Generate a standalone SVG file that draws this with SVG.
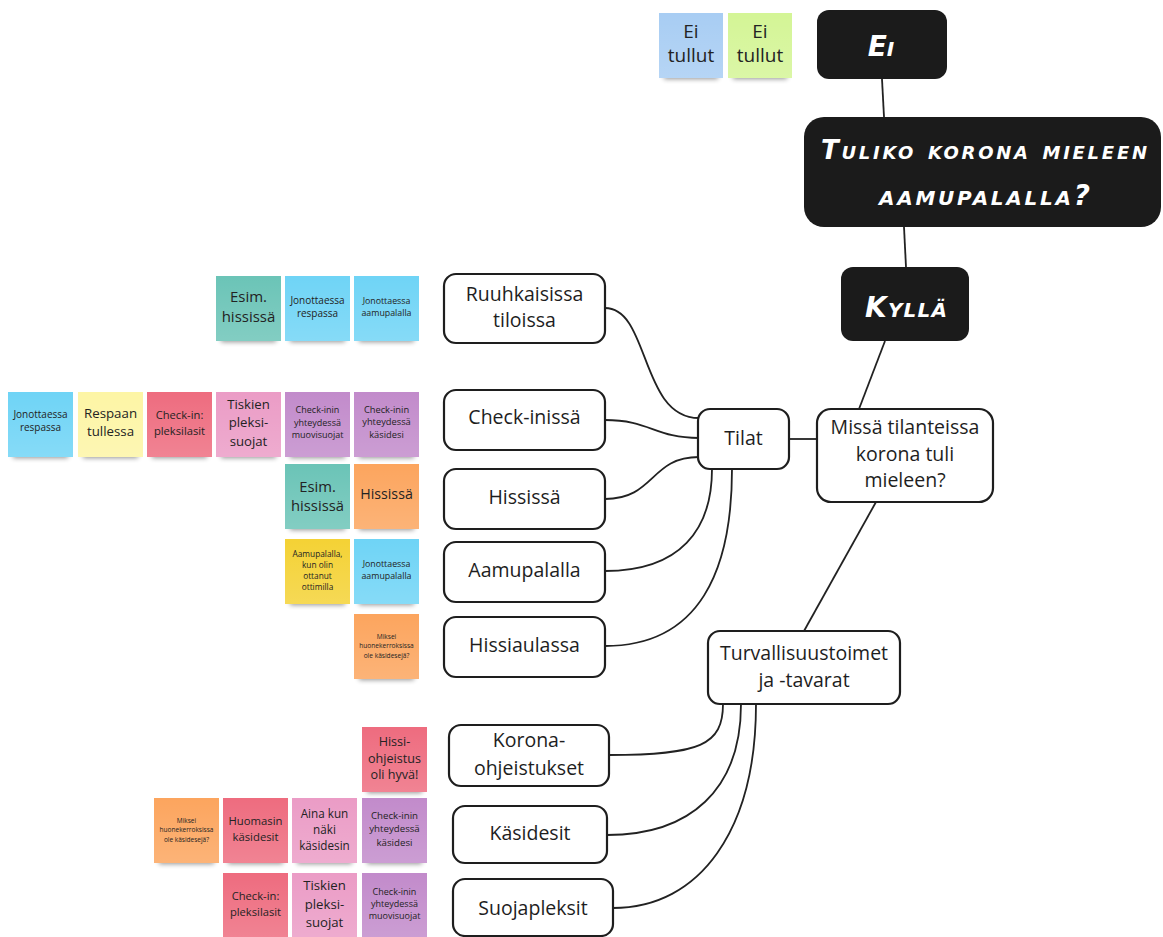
<svg xmlns="http://www.w3.org/2000/svg" width="1163" height="937" viewBox="0 0 1163 937">
  <defs>
    <linearGradient id="sheen" x1="0" y1="0" x2="0" y2="1">
      <stop offset="0" stop-color="#fff" stop-opacity="0"/>
      <stop offset="1" stop-color="#fff" stop-opacity="0.16"/>
    </linearGradient>
    <filter id="blur" x="-30%" y="-100%" width="160%" height="300%">
      <feGaussianBlur stdDeviation="2.6"/>
    </filter>
  </defs>
  <style>
    .bg { fill: #ffffff; }
    .shd { fill: #000; opacity: 0.42; filter: url(#blur); }
    .sheen { fill: url(#sheen); }
    .teal { fill: #6bc4b7; }
    .cyan { fill: #6fd4f6; }
    .lblue { fill: #a8cdf3; }
    .lime { fill: #d4f596; }
    .yellow { fill: #fdf5a5; }
    .red { fill: #ee6c7f; }
    .pink { fill: #eb9cc6; }
    .purple { fill: #c28bcb; }
    .orange { fill: #fca55e; }
    .gold { fill: #f4d235; }
    .st { font-family: "Open Sans", "Liberation Sans", sans-serif; fill: #232323; text-anchor: middle; }
    .box { fill: #ffffff; stroke: #1e1e1e; stroke-width: 2.2; }
    .dark { fill: #1b1b1b; }
    .bt { font-family: "Open Sans", "Liberation Sans", sans-serif; font-size: 19.5px; fill: #1e1e1e; text-anchor: middle; }
    .ht { font-family: "DejaVu Sans", "Liberation Sans", sans-serif; font-weight: bold; font-style: italic; font-variant: small-caps; fill: #ffffff; }
    .edge { fill: none; stroke: #222; stroke-width: 1.8; }
  </style>

  <rect class="bg" width="1163" height="937"/>

  <!-- connectors -->
  <g id="connectors">
    <path class="edge" d="M882,79 L884,117"/>
    <path class="edge" d="M904,227 L906,267"/>
    <path class="edge" d="M885,341 L859,409"/>
    <path class="edge" d="M789,439 L817,439"/>
    <path class="edge" d="M876,502 L804,631"/>
    <path class="edge" d="M605,308 C650,308 640,418 699,418"/>
    <path class="edge" d="M605,420 C650,420 655,438 699,438"/>
    <path class="edge" d="M605,499 C655,499 650,457 699,457"/>
    <path class="edge" d="M605,571 C680,571 712,530 712,469"/>
    <path class="edge" d="M605,646 C700,646 732,570 732,469"/>
    <path class="edge" d="M723,704 C723,745 700,755 609,755"/>
    <path class="edge" d="M741,704 C741,790 690,835 607,835"/>
    <path class="edge" d="M756,704 C756,830 700,908 613,908"/>
  </g>

  <!-- question nodes -->
  <g id="node-ei">
    <rect class="dark" x="817" y="10" width="130" height="69" rx="12"/>
    <text class="ht" x="881" y="56" font-size="28" text-anchor="middle">Ei</text>
  </g>
  <g id="node-tuliko">
    <rect class="dark" x="804" y="117" width="357" height="110" rx="20"/>
    <text class="ht" x="821" y="159" font-size="26" textLength="326" lengthAdjust="spacing">Tuliko korona mieleen</text>
    <text class="ht" x="879" y="205" font-size="28" textLength="211" lengthAdjust="spacing">aamupalalla?</text>
  </g>
  <g id="node-kylla">
    <rect class="dark" x="841" y="267" width="128" height="74" rx="12"/>
    <text class="ht" x="865" y="317" font-size="28" textLength="82" lengthAdjust="spacing">Kyllä</text>
  </g>

  <g id="node-missa">
    <rect class="box" x="817" y="409" width="176" height="93" rx="14"/>
    <text class="bt" x="905" y="433.5">Missä tilanteissa</text>
    <text class="bt" x="905" y="461">korona tuli</text>
    <text class="bt" x="905" y="487">mieleen?</text>
  </g>
  <g id="node-tilat">
    <rect class="box" x="698" y="409" width="91" height="60" rx="12"/>
    <text class="bt" x="743.5" y="444.5">Tilat</text>
  </g>
  <g id="node-turvallisuus">
    <rect class="box" x="708" y="631" width="192" height="73" rx="12"/>
    <text class="bt" x="804" y="660">Turvallisuustoimet</text>
    <text class="bt" x="804" y="687">ja -tavarat</text>
  </g>

  <g id="node-ruuhkaisissa">
    <rect class="box" x="444" y="274" width="161" height="69" rx="12"/>
    <text class="bt" x="524.5" y="300.5">Ruuhkaisissa</text>
    <text class="bt" x="524.5" y="327">tiloissa</text>
  </g>
  <g id="node-checkinissa">
    <rect class="box" x="444" y="390" width="161" height="60" rx="12"/>
    <text class="bt" x="524.5" y="424">Check-inissä</text>
  </g>
  <g id="node-hississa">
    <rect class="box" x="444" y="469" width="161" height="60" rx="12"/>
    <text class="bt" x="524.5" y="504">Hississä</text>
  </g>
  <g id="node-aamupalalla">
    <rect class="box" x="444" y="542" width="161" height="60" rx="12"/>
    <text class="bt" x="524.5" y="577">Aamupalalla</text>
  </g>
  <g id="node-hissiaulassa">
    <rect class="box" x="444" y="617" width="161" height="60" rx="12"/>
    <text class="bt" x="524.5" y="652">Hissiaulassa</text>
  </g>
  <g id="node-korona">
    <rect class="box" x="449" y="725" width="160" height="61" rx="12"/>
    <text class="bt" x="529" y="747">Korona-</text>
    <text class="bt" x="529" y="774.5">ohjeistukset</text>
  </g>
  <g id="node-kasidesit">
    <rect class="box" x="453" y="806" width="154" height="57" rx="12"/>
    <text class="bt" x="530" y="840">Käsidesit</text>
  </g>
  <g id="node-suojapleksit">
    <rect class="box" x="453" y="879" width="160" height="57" rx="12"/>
    <text class="bt" x="533" y="915">Suojapleksit</text>
  </g>

  <!-- sticky notes -->
  <g id="sticky-ei-1" transform="translate(659,13)">
    <rect class="shd" x="5" y="56" width="54" height="10"/>
    <rect class="lblue" width="64" height="65"/>
    <rect class="sheen" width="64" height="65"/>
    <text class="st" font-size="19"><tspan x="32" y="25">Ei</tspan><tspan x="32" y="49">tullut</tspan></text>
  </g>
  <g id="sticky-ei-2" transform="translate(728,13)">
    <rect class="shd" x="5" y="56" width="54" height="10"/>
    <rect class="lime" width="64" height="65"/>
    <rect class="sheen" width="64" height="65"/>
    <text class="st" font-size="19"><tspan x="32" y="25">Ei</tspan><tspan x="32" y="49">tullut</tspan></text>
  </g>

  <g id="sticky-r1-1" transform="translate(216,276)">
    <rect class="shd" x="5" y="56" width="55" height="10"/>
    <rect class="teal" width="65" height="65"/>
    <rect class="sheen" width="65" height="65"/>
    <text class="st" font-size="15"><tspan x="32.5" y="26">Esim.</tspan><tspan x="32.5" y="45.5">hississä</tspan></text>
  </g>
  <g id="sticky-r1-2" transform="translate(285,276)">
    <rect class="shd" x="5" y="56" width="55" height="10"/>
    <rect class="cyan" width="65" height="65"/>
    <rect class="sheen" width="65" height="65"/>
    <text class="st" font-size="10"><tspan x="32.5" y="27.5">Jonottaessa</tspan><tspan x="32.5" y="40.5">respassa</tspan></text>
  </g>
  <g id="sticky-r1-3" transform="translate(354,276)">
    <rect class="shd" x="5" y="56" width="55" height="10"/>
    <rect class="cyan" width="65" height="65"/>
    <rect class="sheen" width="65" height="65"/>
    <text class="st" font-size="8.8"><tspan x="32.5" y="27.7">Jonottaessa</tspan><tspan x="32.5" y="39.7">aamupalalla</tspan></text>
  </g>

  <g id="sticky-r2-1" transform="translate(8,392)">
    <rect class="shd" x="5" y="56" width="55" height="10"/>
    <rect class="cyan" width="65" height="65"/>
    <rect class="sheen" width="65" height="65"/>
    <text class="st" font-size="10"><tspan x="32.5" y="26">Jonottaessa</tspan><tspan x="32.5" y="39">respassa</tspan></text>
  </g>
  <g id="sticky-r2-2" transform="translate(78,392)">
    <rect class="shd" x="5" y="56" width="55" height="10"/>
    <rect class="yellow" width="65" height="65"/>
    <rect class="sheen" width="65" height="65"/>
    <text class="st" font-size="13.3"><tspan x="32.5" y="26">Respaan</tspan><tspan x="32.5" y="44">tullessa</tspan></text>
  </g>
  <g id="sticky-r2-3" transform="translate(147,392)">
    <rect class="shd" x="5" y="56" width="55" height="10"/>
    <rect class="red" width="65" height="65"/>
    <rect class="sheen" width="65" height="65"/>
    <text class="st" font-size="11.2"><tspan x="32.5" y="27">Check-in:</tspan><tspan x="32.5" y="42.5">pleksilasit</tspan></text>
  </g>
  <g id="sticky-r2-4" transform="translate(216,392)">
    <rect class="shd" x="5" y="56" width="55" height="10"/>
    <rect class="pink" width="65" height="65"/>
    <rect class="sheen" width="65" height="65"/>
    <text class="st" font-size="13.2"><tspan x="32.5" y="16.5">Tiskien</tspan><tspan x="32.5" y="35">pleksi-</tspan><tspan x="32.5" y="53.5">suojat</tspan></text>
  </g>
  <g id="sticky-r2-5" transform="translate(285,392)">
    <rect class="shd" x="5" y="56" width="55" height="10"/>
    <rect class="purple" width="65" height="65"/>
    <rect class="sheen" width="65" height="65"/>
    <text class="st" font-size="9"><tspan x="32.5" y="21">Check-inin</tspan><tspan x="32.5" y="33.5">yhteydessä</tspan><tspan x="32.5" y="46">muovisuojat</tspan></text>
  </g>
  <g id="sticky-r2-6" transform="translate(354,392)">
    <rect class="shd" x="5" y="56" width="55" height="10"/>
    <rect class="purple" width="65" height="65"/>
    <rect class="sheen" width="65" height="65"/>
    <text class="st" font-size="9.3"><tspan x="32.5" y="20.5">Check-inin</tspan><tspan x="32.5" y="33.3">yhteydessä</tspan><tspan x="32.5" y="46">käsidesi</tspan></text>
  </g>

  <g id="sticky-r3-1" transform="translate(285,464)">
    <rect class="shd" x="5" y="56" width="55" height="10"/>
    <rect class="teal" width="65" height="65"/>
    <rect class="sheen" width="65" height="65"/>
    <text class="st" font-size="14.8"><tspan x="32.5" y="27.5">Esim.</tspan><tspan x="32.5" y="46.5">hississä</tspan></text>
  </g>
  <g id="sticky-r3-2" transform="translate(354,464)">
    <rect class="shd" x="5" y="56" width="55" height="10"/>
    <rect class="orange" width="65" height="65"/>
    <rect class="sheen" width="65" height="65"/>
    <text class="st" font-size="14.2"><tspan x="32.5" y="35">Hississä</tspan></text>
  </g>

  <g id="sticky-r4-1" transform="translate(285,539)">
    <rect class="shd" x="5" y="56" width="55" height="10"/>
    <rect class="gold" width="65" height="65"/>
    <rect class="sheen" width="65" height="65"/>
    <text class="st" font-size="8.3"><tspan x="32.5" y="18">Aamupalalla,</tspan><tspan x="32.5" y="29">kun olin</tspan><tspan x="32.5" y="40">ottanut</tspan><tspan x="32.5" y="51">ottimilla</tspan></text>
  </g>
  <g id="sticky-r4-2" transform="translate(354,539)">
    <rect class="shd" x="5" y="56" width="55" height="10"/>
    <rect class="cyan" width="65" height="65"/>
    <rect class="sheen" width="65" height="65"/>
    <text class="st" font-size="8.8"><tspan x="32.5" y="28">Jonottaessa</tspan><tspan x="32.5" y="40">aamupalalla</tspan></text>
  </g>

  <g id="sticky-r5-1" transform="translate(354,614)">
    <rect class="shd" x="5" y="56" width="55" height="10"/>
    <rect class="orange" width="65" height="65"/>
    <rect class="sheen" width="65" height="65"/>
    <text class="st" font-size="6.6"><tspan x="32.5" y="24.5">Miksei</tspan><tspan x="32.5" y="34.2">huonekerroksissa</tspan><tspan x="32.5" y="44">ole käsidesejä?</tspan></text>
  </g>

  <g id="sticky-r6-1" transform="translate(362,727)">
    <rect class="shd" x="5" y="56" width="55" height="10"/>
    <rect class="red" width="65" height="65"/>
    <rect class="sheen" width="65" height="65"/>
    <text class="st" font-size="12.6"><tspan x="32.5" y="19">Hissi-</tspan><tspan x="32.5" y="35.7">ohjeistus</tspan><tspan x="32.5" y="52.3">oli hyvä!</tspan></text>
  </g>

  <g id="sticky-r7-1" transform="translate(154,798)">
    <rect class="shd" x="5" y="56" width="55" height="10"/>
    <rect class="orange" width="65" height="65"/>
    <rect class="sheen" width="65" height="65"/>
    <text class="st" font-size="6.5"><tspan x="32.5" y="24.5">Miksei</tspan><tspan x="32.5" y="34">huonekerroksissa</tspan><tspan x="32.5" y="43.5">ole käsidesejä?</tspan></text>
  </g>
  <g id="sticky-r7-2" transform="translate(223,798)">
    <rect class="shd" x="5" y="56" width="55" height="10"/>
    <rect class="red" width="65" height="65"/>
    <rect class="sheen" width="65" height="65"/>
    <text class="st" font-size="11.3"><tspan x="32.5" y="27">Huomasin</tspan><tspan x="32.5" y="42.7">käsidesit</tspan></text>
  </g>
  <g id="sticky-r7-3" transform="translate(292,798)">
    <rect class="shd" x="5" y="56" width="55" height="10"/>
    <rect class="pink" width="65" height="65"/>
    <rect class="sheen" width="65" height="65"/>
    <text class="st" font-size="11.7"><tspan x="32.5" y="19.5">Aina kun</tspan><tspan x="32.5" y="35.5">näki</tspan><tspan x="32.5" y="51.5">käsidesin</tspan></text>
  </g>
  <g id="sticky-r7-4" transform="translate(362,798)">
    <rect class="shd" x="5" y="56" width="55" height="10"/>
    <rect class="purple" width="65" height="65"/>
    <rect class="sheen" width="65" height="65"/>
    <text class="st" font-size="9.7"><tspan x="32.5" y="21">Check-inin</tspan><tspan x="32.5" y="34.3">yhteydessä</tspan><tspan x="32.5" y="47.6">käsidesi</tspan></text>
  </g>

  <g id="sticky-r8-1" transform="translate(223,873)">
    <rect class="shd" x="5" y="56" width="55" height="10"/>
    <rect class="red" width="65" height="65"/>
    <rect class="sheen" width="65" height="65"/>
    <text class="st" font-size="11.2"><tspan x="32.5" y="26.5">Check-in:</tspan><tspan x="32.5" y="42.5">pleksilasit</tspan></text>
  </g>
  <g id="sticky-r8-2" transform="translate(292,873)">
    <rect class="shd" x="5" y="56" width="55" height="10"/>
    <rect class="pink" width="65" height="65"/>
    <rect class="sheen" width="65" height="65"/>
    <text class="st" font-size="13.2"><tspan x="32.5" y="17">Tiskien</tspan><tspan x="32.5" y="35.5">pleksi-</tspan><tspan x="32.5" y="53.5">suojat</tspan></text>
  </g>
  <g id="sticky-r8-3" transform="translate(362,873)">
    <rect class="shd" x="5" y="56" width="55" height="10"/>
    <rect class="purple" width="65" height="65"/>
    <rect class="sheen" width="65" height="65"/>
    <text class="st" font-size="9"><tspan x="32.5" y="21.7">Check-inin</tspan><tspan x="32.5" y="34">yhteydessä</tspan><tspan x="32.5" y="46">muovisuojat</tspan></text>
  </g>
</svg>
